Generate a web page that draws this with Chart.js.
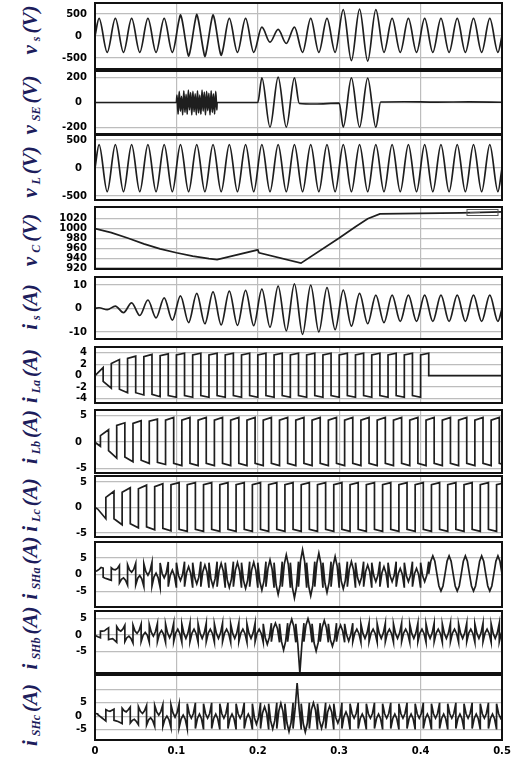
<!DOCTYPE html>
<html>
<head>
<meta charset="utf-8">
<script src="https://cdn.jsdelivr.net/npm/chart.js@4.4.1/dist/chart.umd.min.js"></script>
<style>
  html, body { margin: 0; padding: 0; background: #fff; }
  body { position: relative; width: 511px; height: 757px; overflow: hidden; }
  canvas { position: absolute; left: 0; }
  .yl {
    position: absolute; left: 31px;
    transform: translate(-50%, -50%) rotate(-90deg);
    font: italic bold 21px "Liberation Serif", serif;
    color: #1d1d5c; white-space: nowrap;
  }
  .yl sub { font-size: 12px; margin: 0 3px 0 4px; vertical-align: -3px; }
</style>
</head>
<body>
<div class="yl" style="top:30px">v<sub>s</sub>(V)</div>
<div class="yl" style="top:105px">v<sub>SE</sub>(V)</div>
<div class="yl" style="top:172px">v<sub>L</sub>(V)</div>
<div class="yl" style="top:240px">v<sub>C</sub>(V)</div>
<div class="yl" style="top:307px">i<sub>s</sub>(A)</div>
<div class="yl" style="top:376px">i<sub>La</sub>(A)</div>
<div class="yl" style="top:437px">i<sub>Lb</sub>(A)</div>
<div class="yl" style="top:505px">i<sub>Lc</sub>(A)</div>
<div class="yl" style="top:568px">i<sub>SHa</sub>(A)</div>
<div class="yl" style="top:638px">i<sub>SHb</sub>(A)</div>
<div class="yl" style="top:715px">i<sub>SHc</sub>(A)</div>
<script>
// time axis (s)
const timeTicks = [0, 0.1, 0.2, 0.3, 0.4, 0.5];

// y ticks of each panel
const vsTicks = [-500, 0, 500];
const vseTicks = [-200, 0, 200];
const vlTicks = [-500, 0, 500];
const vcTicks = [920, 940, 960, 980, 1000, 1020];
const isTicks = [-10, 0, 10];
const iLaTicks = [-4, -2, 0, 2, 4];
const iLbTicks = [-5, 0, 5];
const iLcTicks = [-5, 0, 5];
const iShaTicks = [-5, 0, 5];
const iShbTicks = [-5, 0, 5];
const iShcTicks = [-5, 0, 5, 10];

// peak of every half cycle (5 ms, 15 ms, 25 ms ...)
const vsPeaks = [
  400, -370, 400, -370, 400, -370, 400, -370, 400, -370,
  480, -460, 490, -470, 480, -440, 400, -370, 400, -370,
  200, -140, 150, -170, 200, -370, 400, -370, 400, -370,
  600, -560, 610, -570, 600, -370, 400, -370, 400, -370,
  400, -370, 400, -370, 400, -370, 400, -370, 400, -370
];
// shoulders of the distorted supply voltage (0.1 - 0.16 s)
const vsNotchTimes = [0.1032, 0.1068, 0.1132, 0.1168, 0.1232, 0.1268, 0.1332, 0.1368, 0.1432, 0.1468, 0.1532, 0.1568];
const vsNotchValues = [360, 380, -330, -350, 360, 380, -330, -350, 360, 380, -330, -340];
const vlPeaks = [
  420, -420, 420, -420, 420, -420, 420, -420, 420, -420,
  420, -420, 420, -420, 420, -420, 420, -420, 420, -420,
  420, -420, 420, -420, 420, -420, 420, -420, 420, -420,
  420, -420, 420, -420, 420, -420, 420, -420, 420, -420,
  420, -420, 420, -420, 420, -420, 420, -420, 420, -420
];
const isPeaks = [
  0.3, -0.5, 1.0, -1.8, 2.4, -3.0, 3.6, -4.0, 4.5, -5.0,
  5.4, -6.0, 6.4, -6.5, 7.1, -7.0, 7.4, -7.2, 7.7, -7.3,
  8.2, -8.0, 9.5, -9.5, 10.5, -11.0, 9.9, -10.0, 8.9, -9.0,
  7.8, -7.5, 6.4, -6.5, 5.7, -6.0, 5.7, -5.5, 5.7, -5.5,
  5.7, -5.5, 5.7, -5.5, 5.7, -5.5, 5.7, -5.5, 5.7, -5.5
];

// series voltage
const vseTimes = [0, 0.1, 0.15, 0.2, 0.205, 0.215, 0.225, 0.235, 0.245, 0.251, 0.27,
  0.3, 0.305, 0.315, 0.325, 0.335, 0.345, 0.351, 0.38, 0.42, 0.46, 0.5];
const vseValues = [0, 0, 0, 0, 200, -200, 205, -200, 200, -8, -12,
  -5, -200, 200, -200, 198, -200, 4, 6, 3, 5, 2];
// harmonic burst 0.1 - 0.15 s, one value every 1.4 ms
const vseBurst = [60, -95, 90, -70, 50, -100, 95, -80, 65, -95, 100, -60, 80, -100, 90, -75, 70, -100,
  95, -85, 60, -95, 100, -70, 85, -100, 90, -65, 75, -100, 95, -80, 70, -95, 90, -60];

// dc link voltage
const vcTimes = [0, 0.02, 0.04, 0.06, 0.08, 0.1, 0.12, 0.14, 0.15, 0.2, 0.2015, 0.253,
  0.3, 0.32, 0.335, 0.35, 0.4, 0.45, 0.5];
const vcValues = [1000, 992, 981, 969, 959, 951, 944, 939, 937, 957, 951, 930,
  981, 1004, 1020, 1030, 1031, 1032, 1034];

// load currents: [start, end] of each half cycle
const iLaHalves = [
  [0, 1.4], [-1.0, -2.2], [2.1, 2.8], [-2.4, -3.0], [3.0, 3.4], [-3.0, -3.4],
  [3.3, 3.7], [-3.3, -3.7], [3.5, 3.8], [-3.5, -3.8],
  [3.6, 3.9], [-3.5, -3.8], [3.6, 3.9], [-3.5, -3.8], [3.6, 3.9], [-3.5, -3.8],
  [3.6, 3.9], [-3.5, -3.8], [3.6, 3.9], [-3.5, -3.8], [3.6, 3.9], [-3.5, -3.8],
  [3.6, 3.9], [-3.5, -3.8], [3.6, 3.9], [-3.5, -3.8], [3.6, 3.9], [-3.5, -3.8],
  [3.6, 3.9], [-3.5, -3.8], [3.6, 3.9], [-3.5, -3.8], [3.6, 3.9], [-3.5, -3.8],
  [3.6, 3.9], [-3.5, -3.8], [3.6, 3.9], [-3.5, -3.8], [3.6, 3.9], [-3.5, -3.8],
  [3.6, 3.9], [0, 0], [0, 0], [0, 0], [0, 0], [0, 0], [0, 0], [0, 0], [0, 0], [0, 0]
];
const iLbHalves = [
  [0, 0], [0.3, -0.8], [1.2, 2.3], [-1.6, -3.0], [3.1, 3.6], [-2.8, -3.7],
  [3.5, 4.0], [-3.4, -4.0], [3.9, 4.3], [-3.8, -4.2],
  [4.1, 4.6], [-4.0, -4.4], [4.1, 4.6], [-4.0, -4.4], [4.1, 4.6], [-4.0, -4.4],
  [4.1, 4.6], [-4.0, -4.4], [4.1, 4.6], [-4.0, -4.4], [4.1, 4.6], [-4.0, -4.4],
  [4.1, 4.6], [-4.0, -4.4], [4.1, 4.6], [-4.0, -4.4], [4.1, 4.6], [-4.0, -4.4],
  [4.1, 4.6], [-4.0, -4.4], [4.1, 4.6], [-4.0, -4.4], [4.1, 4.6], [-4.0, -4.4],
  [4.1, 4.6], [-4.0, -4.4], [4.1, 4.6], [-4.0, -4.4], [4.1, 4.6], [-4.0, -4.4],
  [4.1, 4.6], [-4.0, -4.4], [4.1, 4.6], [-4.0, -4.4], [4.1, 4.6], [-4.0, -4.4],
  [4.1, 4.6], [-4.0, -4.4], [4.1, 4.6], [-4.0, -4.4], [4.1, 4.6], [-4.0, -4.4]
];
const iLcHalves = [
  [0.6, -0.3], [-0.3, -2.2], [2.0, 3.2], [-2.2, -3.4], [3.0, 3.9], [-3.2, -4.0],
  [3.7, 4.4], [-3.8, -4.4], [4.1, 4.7], [-4.1, -4.6],
  [4.5, 4.9], [-4.3, -4.7], [4.5, 4.9], [-4.3, -4.7], [4.5, 4.9], [-4.3, -4.7],
  [4.5, 4.9], [-4.3, -4.7], [4.5, 4.9], [-4.3, -4.7], [4.5, 4.9], [-4.3, -4.7],
  [4.5, 4.9], [-4.3, -4.7], [4.5, 4.9], [-4.3, -4.7], [4.5, 4.9], [-4.3, -4.7],
  [4.5, 4.9], [-4.3, -4.7], [4.5, 4.9], [-4.3, -4.7], [4.5, 4.9], [-4.3, -4.7],
  [4.5, 4.9], [-4.3, -4.7], [4.5, 4.9], [-4.3, -4.7], [4.5, 4.9], [-4.3, -4.7],
  [4.5, 4.9], [-4.3, -4.7], [4.5, 4.9], [-4.3, -4.7], [4.5, 4.9], [-4.3, -4.7],
  [4.5, 4.9], [-4.3, -4.7], [4.5, 4.9], [-4.3, -4.7], [4.5, 4.9]
];

// shunt currents: 5 samples per half cycle (every 2.5 ms)
const iShaRows = [
  [1.0, 1.2, 1.6, 2.2, 2.0], [-0.7, -1.0, -1.2, -1.4, -1.6],
  [2.1, 1.6, 1.5, 1.9, 2.8], [-2.4, -1.3, -0.9, -1.6, -3.0],
  [3.0, 1.4, 0.8, 1.6, 3.4], [-3.0, -1.0, -0.2, -1.2, -3.4],
  [3.3, 0.9, -0.1, 1.1, 3.7], [-3.3, -0.6, 0.5, -0.8, -3.7],
  [3.5, 0.4, -0.9, 0.5, 3.8], [-3.5, -0.1, 1.4, -0.2, -3.8],
  [3.6, -0.1, -1.7, 0.0, 3.9], [-3.5, 0.6, 2.4, 0.5, -3.8],
  [3.6, -0.8, -2.7, -0.7, 3.9], [-3.5, 1.0, 2.9, 0.9, -3.8],
  [3.6, -1.3, -3.4, -1.2, 3.9], [-3.5, 1.3, 3.4, 1.2, -3.8],
  [3.6, -1.5, -3.7, -1.4, 3.9], [-3.5, 1.4, 3.6, 1.3, -3.8],
  [3.6, -1.7, -4.0, -1.6, 3.9], [-3.5, 1.5, 3.7, 1.4, -3.8],
  [3.6, -2.0, -4.5, -1.9, 3.9], [-3.5, 1.9, 4.4, 1.8, -3.8],
  [3.6, -3.0, -5.8, -2.9, 3.9], [-3.5, 3.1, 5.9, 3.0, -3.8],
  [3.6, -3.7, -6.8, -3.6, 3.9], [-3.5, 4.1, 7.4, 4.0, -3.8],
  [3.6, -3.3, -6.2, -3.2, 3.9], [-3.5, 3.4, 6.4, 3.3, -3.8],
  [3.6, -2.5, -5.2, -2.4, 3.9], [-3.5, 2.7, 5.4, 2.6, -3.8],
  [3.6, -1.8, -4.1, -1.7, 3.9], [-3.5, 1.7, 3.9, 1.6, -3.8],
  [3.6, -0.8, -2.7, -0.7, 3.9], [-3.5, 1.0, 2.9, 0.9, -3.8],
  [3.6, -0.3, -2.0, -0.2, 3.9], [-3.5, 0.6, 2.4, 0.5, -3.8],
  [3.6, -0.3, -2.0, -0.2, 3.9], [-3.5, 0.3, 1.9, 0.2, -3.8],
  [3.6, -0.3, -2.0, -0.2, 3.9], [-3.5, 0.3, 1.9, 0.2, -3.8],
  [3.6, -0.3, -2.0, -0.2, 3.9], [0.3, 4.0, 5.6, 4.0, 0.3],
  [0.3, -3.3, -4.8, -3.3, 0.3], [0.3, 4.0, 5.6, 4.0, 0.3],
  [0.3, -3.3, -4.8, -3.3, 0.3], [0.3, 4.0, 5.6, 4.0, 0.3],
  [0.3, -3.3, -4.8, -3.3, 0.3], [0.3, 4.0, 5.6, 4.0, 0.3],
  [0.3, -3.3, -4.8, -3.3, 0.3], [0.3, 4.0, 5.6, 4.0, 0.3]
];
const iShbRows = [
  [0, 0, 0, 0, 0], [0.2, 0.1, -0.3, -0.6, -0.8],
  [1.2, 1.2, 1.3, 1.8, 2.2], [-1.4, -1.2, -1.1, -1.6, -2.2],
  [2.6, 1.6, 1.2, 1.8, 3.0], [-2.0, -0.8, -0.3, -1.0, -2.4],
  [3.0, 1.2, 0.5, 1.4, 3.3], [-2.0, 0.0, 0.8, 0.0, -2.2],
  [3.2, 0.9, -0.3, 1.0, 3.5], [-2.0, 0.4, 1.4, 0.3, -2.2],
  [3.4, 0.6, -0.8, 0.7, 3.6], [-2.0, 0.6, 1.8, 0.5, -2.2],
  [3.4, 0.5, -1.0, 0.6, 3.6], [-2.0, 0.6, 1.8, 0.5, -2.2],
  [3.4, 0.5, -1.0, 0.6, 3.6], [-2.0, 0.6, 1.8, 0.5, -2.2],
  [3.4, 0.5, -1.0, 0.6, 3.6], [-2.0, 0.6, 1.8, 0.5, -2.2],
  [3.4, 0.5, -1.0, 0.6, 3.6], [-2.0, 0.6, 1.8, 0.5, -2.2],
  [3.4, 0.5, -1.0, 0.6, 3.6], [-2.0, 0.6, 1.8, 0.5, -2.2],
  [3.4, -0.8, -2.8, -0.7, 3.6], [-2.0, 2.0, 3.6, 1.9, -2.2],
  [3.4, -2.0, -4.5, -1.9, 3.6], [-2.0, 2.8, 4.8, 2.7, -2.2],
  [3.4, -2.8, -11.5, -2.7, 3.6], [-2.0, 3.0, 5.0, 2.9, -2.2],
  [3.4, -2.4, -4.8, -2.3, 3.6], [-2.0, 2.4, 4.4, 2.3, -2.2],
  [3.4, -1.4, -3.4, -1.3, 3.6], [-2.0, 1.4, 3.0, 1.3, -2.2],
  [3.4, 0.0, -1.8, 0.1, 3.6], [-2.0, 0.6, 1.8, 0.5, -2.2],
  [3.4, 0.5, -1.0, 0.6, 3.6], [-2.0, 0.6, 1.8, 0.5, -2.2],
  [3.4, 0.5, -1.0, 0.6, 3.6], [-2.0, 0.6, 1.8, 0.5, -2.2],
  [3.4, 0.5, -1.0, 0.6, 3.6], [-2.0, 0.6, 1.8, 0.5, -2.2],
  [3.4, 0.5, -1.0, 0.6, 3.6], [-2.0, 0.6, 1.8, 0.5, -2.2],
  [3.4, 0.5, -1.0, 0.6, 3.6], [-2.0, 0.6, 1.8, 0.5, -2.2],
  [3.4, 0.5, -1.0, 0.6, 3.6], [-2.0, 0.6, 1.8, 0.5, -2.2],
  [3.4, 0.5, -1.0, 0.6, 3.6], [-2.0, 0.6, 1.8, 0.5, -2.2],
  [3.4, 0.5, -1.0, 0.6, 3.6], [-2.0, 0.6, 1.8, 0.5, -2.2],
  [3.4, 0.5, -1.0, 0.6, 3.6], [-2.0, 0.6, 1.8, 0.5, -2.2]
];
const iShcRows = [
  [1.2, 1.2, 1.2, 1.0, 0.8], [0.6, 0.0, -0.6, -1.2, -1.8],
  [2.4, 2.0, 1.8, 2.2, 2.6], [-1.6, -1.8, -2.0, -2.4, -2.8],
  [3.0, 2.0, 1.6, 2.4, 3.4], [-2.6, -1.6, -1.2, -2.0, -3.2],
  [3.6, 1.8, 1.0, 2.0, 4.0], [-3.4, -1.4, -0.6, -1.6, -3.8],
  [4.0, 1.6, 0.4, 1.7, 4.3], [-3.9, -1.2, 0.0, -1.3, -4.3],
  [4.3, 1.2, -0.4, 1.3, 4.6], [-4.3, -1.0, 0.4, -1.1, -4.7],
  [4.7, 0.9, -0.8, 1.0, 5.0], [-4.7, -0.9, 0.8, -1.0, -5.0],
  [4.7, 0.9, -0.8, 1.0, 5.0], [-4.7, -0.9, 0.8, -1.0, -5.0],
  [4.7, 0.9, -0.8, 1.0, 5.0], [-4.7, -0.9, 0.8, -1.0, -5.0],
  [4.7, 0.9, -0.8, 1.0, 5.0], [-4.7, -0.9, 0.8, -1.0, -5.0],
  [4.7, -0.6, -3.0, -0.5, 5.0], [-4.7, 1.2, 3.5, 1.1, -5.0],
  [4.7, -1.8, -4.8, -1.7, 5.0], [-4.7, 2.0, 4.8, 1.9, -5.0],
  [4.7, -2.6, -5.8, -2.5, 5.0], [-4.7, 2.8, 12.5, 2.6, -5.0],
  [4.7, -2.8, -6.0, -2.7, 5.0], [-4.7, 2.4, 5.0, 2.3, -5.0],
  [4.7, -1.8, -4.6, -1.7, 5.0], [-4.7, 1.6, 3.8, 1.5, -5.0],
  [4.7, -0.6, -2.6, -0.5, 5.0], [-4.7, -0.2, 1.6, -0.3, -5.0],
  [4.7, 0.9, -0.8, 1.0, 5.0], [-4.7, -0.9, 0.8, -1.0, -5.0],
  [4.7, 0.9, -0.8, 1.0, 5.0], [-4.7, -0.9, 0.8, -1.0, -5.0],
  [4.7, 0.9, -0.8, 1.0, 5.0], [-4.7, -0.9, 0.8, -1.0, -5.0],
  [4.7, 0.9, -0.8, 1.0, 5.0], [-4.7, -0.9, 0.8, -1.0, -5.0],
  [4.7, 0.9, -0.8, 1.0, 5.0], [-4.7, -0.9, 0.8, -1.0, -5.0],
  [4.7, 0.9, -0.8, 1.0, 5.0], [-4.7, -0.9, 0.8, -1.0, -5.0],
  [4.7, 0.9, -0.8, 1.0, 5.0], [-4.7, -0.9, 0.8, -1.0, -5.0],
  [4.7, 0.9, -0.8, 1.0, 5.0], [-4.7, -0.9, 0.8, -1.0, -5.0],
  [4.7, 0.9, -0.8, 1.0, 5.0], [-4.7, -0.9, 0.8, -1.0, -5.0],
  [4.7, 0.9, -0.8, 1.0, 5.0]
];

// start time of the first half cycle of phases a, b, c
const phaseStart = { a: 0, b: -0.01333, c: -0.00667 };

// ---- building points ----
function peakPoints(peaks, extraTimes, extraValues) {
  const pts = [{ x: 0, y: 0 }];
  peaks.forEach((p, k) => pts.push({ x: 0.005 + 0.01 * k, y: p }));
  (extraTimes || []).forEach((t, i) => pts.push({ x: t, y: extraValues[i] }));
  pts.push({ x: 0.5, y: 0 });
  return pts.sort((a, b) => a.x - b.x);
}

function halfPoints(halves, t0) {
  const pts = [];
  halves.forEach((h, k) => {
    const t = t0 + 0.01 * k;
    pts.push({ x: t, y: h[0] }, { x: t + 0.01, y: h[1] });
  });
  return pts;
}

function rowPoints(rows, t0) {
  const pts = [];
  rows.forEach((r, k) => r.forEach((v, j) => pts.push({ x: t0 + 0.01 * k + 0.0025 * j, y: v })));
  return pts;
}

function vsePoints() {
  const pts = vseTimes.map((t, i) => ({ x: t, y: vseValues[i] }));
  vseBurst.forEach((v, i) => pts.push({ x: 0.1007 + 0.0014 * i, y: v }));
  return pts.sort((a, b) => a.x - b.x);
}

// ---- panels ----
const boxes = [[3, 69], [71, 134], [135, 200], [207, 269], [277, 339], [347, 403],
  [410, 473], [476, 537], [542, 607], [611, 673], [675, 740]];

const framePlugin = {
  id: 'frame',
  afterDraw(chart) {
    const { ctx, chartArea: a } = chart;
    ctx.save();
    ctx.strokeStyle = '#111';
    ctx.lineWidth = 2;
    ctx.strokeRect(a.left, a.top, a.right - a.left, a.bottom - a.top);
    ctx.restore();
  }
};

// small legend box left in the top right corner of the v_C plot
const legendBoxPlugin = {
  id: 'legendBox',
  afterDraw(chart) {
    const { ctx, chartArea: a } = chart;
    ctx.save();
    ctx.strokeStyle = '#555';
    ctx.lineWidth = 1;
    ctx.strokeRect(a.right - 35, a.top + 2.5, 31, 6);
    ctx.beginPath();
    ctx.moveTo(a.right - 32, a.top + 5.5);
    ctx.lineTo(a.right - 22, a.top + 5.5);
    ctx.stroke();
    ctx.restore();
  }
};

const tickFont = { family: 'DejaVu Sans', weight: 'bold', size: 10 };

function addPanel(n, points, yMin, yMax, yTicks, smooth, hiddenLabels, extraPlugins) {
  const [top, bottom] = boxes[n];
  const last = n === boxes.length - 1;
  const cv = document.createElement('canvas');
  cv.width = 540;
  cv.height = bottom - top + (last ? 40 : 20);
  document.body.appendChild(cv);

  const chart = new Chart(cv, {
    type: 'line',
    data: {
      datasets: [{
        data: points,
        borderColor: '#1e1e1e',
        borderWidth: 1.7,
        pointRadius: 0,
        fill: false,
        tension: 0,
        cubicInterpolationMode: smooth ? 'monotone' : 'default'
      }]
    },
    options: {
      responsive: false,
      maintainAspectRatio: false,
      animation: false,
      devicePixelRatio: 1,
      events: [],
      layout: { padding: { left: 0, right: 38, top: 0, bottom: 0 } },
      plugins: { legend: { display: false }, tooltip: { enabled: false } },
      scales: {
        x: {
          type: 'linear', min: 0, max: 0.5,
          afterBuildTicks: s => { s.ticks = timeTicks.map(v => ({ value: v })); },
          afterFit: last ? undefined : s => { s.height = 0; },
          grid: { color: '#bdbdbd', lineWidth: 1.2, drawTicks: false },
          border: { display: false },
          ticks: {
            display: last, maxRotation: 0, autoSkip: false, padding: 5,
            font: tickFont, color: '#000',
            callback: v => String(v)
          }
        },
        y: {
          min: yMin, max: yMax,
          afterBuildTicks: s => { s.ticks = yTicks.map(v => ({ value: v })); },
          afterFit: s => { s.width = 95; },
          grid: { color: '#bdbdbd', lineWidth: 1.2, drawTicks: false },
          border: { display: false },
          ticks: {
            padding: 8, autoSkip: false, font: tickFont, color: '#000',
            callback: v => (hiddenLabels && hiddenLabels.includes(v)) ? '' : (v === 0 ? '0\u2002' : String(v))
          }
        }
      }
    },
    plugins: [framePlugin].concat(extraPlugins || [])
  });

  // make the plot area land exactly on the panel box
  const ca = chart.chartArea;
  const newH = cv.height + (bottom - top) - (ca.bottom - ca.top);
  chart.resize(540, newH);
  cv.style.top = (top - chart.chartArea.top) + 'px';
}

addPanel(0, peakPoints(vsPeaks, vsNotchTimes, vsNotchValues), -750, 750, vsTicks, true);
addPanel(1, vsePoints(), -255, 255, vseTicks, true);
addPanel(2, peakPoints(vlPeaks), -570, 590, vlTicks, true);
addPanel(3, vcTimes.map((t, i) => ({ x: t, y: vcValues[i] })), 918, 1044, vcTicks, false, null, [legendBoxPlugin]);
addPanel(4, peakPoints(isPeaks), -13, 13.4, isTicks, true);
addPanel(5, halfPoints(iLaHalves, phaseStart.a), -4.8, 5, iLaTicks, false);
addPanel(6, halfPoints(iLbHalves, phaseStart.b), -5.8, 6, iLbTicks, false);
addPanel(7, halfPoints(iLcHalves, phaseStart.c), -5.8, 6.2, iLcTicks, false);
addPanel(8, rowPoints(iShaRows, phaseStart.a), -9.5, 9.7, iShaTicks, false);
addPanel(9, rowPoints(iShbRows, phaseStart.b), -11.5, 7.3, iShbTicks, false);
addPanel(10, rowPoints(iShcRows, phaseStart.c), -9, 15.5, iShcTicks, false, [10]);
</script>
</body>
</html>
